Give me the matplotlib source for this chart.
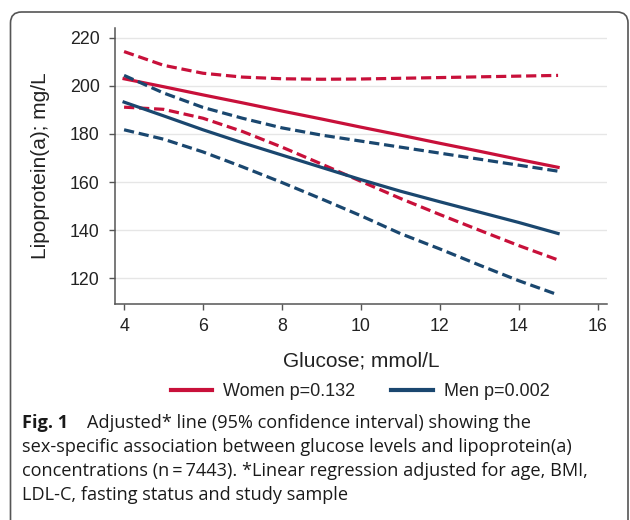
import numpy as np
import matplotlib
matplotlib.use('Agg')
from matplotlib import pyplot as plt
from matplotlib.patches import FancyBboxPatch
from matplotlib.transforms import IdentityTransform

glucose = [4, 5, 6, 7, 8, 9, 10, 11, 12, 13, 14, 15]

women_fit = [202.9, 199.6, 196.2, 192.9, 189.5, 186.2, 182.8, 179.5, 176.1, 172.8, 169.4, 166.1]
women_hi = [214.2, 208.5, 205.2, 203.6, 202.9, 202.7, 202.8, 203.1, 203.4, 203.7, 204.0, 204.3]
women_lo = [191.1, 190.2, 186.5, 181.0, 174.5, 167.5, 160.3, 153.2, 146.5, 140.0, 133.6, 127.6]

men_fit = [193.2, 187.5, 181.7, 176.3, 171.2, 166.1, 161.0, 156.2, 151.8, 147.5, 143.2, 138.6]
men_hi = [204.3, 197.0, 191.0, 186.5, 182.5, 179.5, 177.0, 174.5, 172.0, 169.5, 167.0, 164.5]
men_lo = [181.7, 177.8, 172.5, 166.3, 159.8, 153.0, 146.0, 138.6, 132.2, 125.5, 119.0, 113.1]

labels = ['Women p=0.132', 'Men p=0.002']
xticks = [4, 6, 8, 10, 12, 14, 16]
yticks = [120, 140, 160, 180, 200, 220]

red = '#c8103a'
blue = '#1a476f'
dash = (3.2, 1.5)

plt.rcParams['font.family'] = ['Liberation Sans', 'DejaVu Sans']

fig = plt.figure(figsize=(6.3, 5.2), dpi=100)
ax = fig.add_axes([115/630, 1-304/520, (607-115)/630, (304-28)/520])

lw = 2.3
l1, = ax.plot(glucose, women_fit, color=red, lw=lw, label=labels[0])
ax.plot(glucose, women_hi, color=red, lw=lw, dashes=dash)
ax.plot(glucose, women_lo, color=red, lw=lw, dashes=dash)
l2, = ax.plot(glucose, men_fit, color=blue, lw=lw, label=labels[1])
ax.plot(glucose, men_hi, color=blue, lw=lw, dashes=dash)
ax.plot(glucose, men_lo, color=blue, lw=lw, dashes=dash)

ax.set_xlim(3.77, 16.24)
ax.set_ylim(109.3, 224)
ax.set_xticks(xticks)
ax.set_yticks(yticks)
ax.grid(axis='y', color='#e6e6e6', lw=1)
ax.set_axisbelow(True)
for s in ['top', 'right']:
    ax.spines[s].set_visible(False)
for s in ['left', 'bottom']:
    ax.spines[s].set_color('#555555')
    ax.spines[s].set_linewidth(1.1)
ax.tick_params(length=4, width=1, color='#555555', labelsize=12.8, labelcolor='#222222')
ax.tick_params(axis='y', pad=7)
ax.tick_params(axis='x', pad=6)
ax.set_xlabel('Glucose; mmol/L', fontsize=15, color='#222222', labelpad=12)
ax.set_ylabel('Lipoprotein(a); mg/L', fontsize=15, color='#222222', labelpad=14)

leg = fig.legend(handles=[l1, l2], loc='center', bbox_to_anchor=(360/630, 1-392/520),
                 ncol=2, frameon=False, fontsize=13, handlelength=2.3,
                 handletextpad=0.6, columnspacing=2.0, labelcolor='#222222')
for h in leg.get_lines():
    h.set_linewidth(3)

# caption
cap_font = ['Open Sans', 'DejaVu Sans']
cap_size = 13.1
fig.text(22/630, 1-423/520, 'Fig. 1', fontsize=cap_size, fontweight='bold', va='center',
         family=cap_font, color='#1a1a1a')
fig.text(87/630, 1-423/520, 'Adjusted* line (95% confidence interval) showing the',
         fontsize=cap_size, va='center', family=cap_font, color='#1a1a1a')
rest = ['sex-specific association between glucose levels and lipoprotein(a)',
        'concentrations (n\u2009=\u20097443). *Linear regression adjusted for age, BMI,',
        'LDL-C, fasting status and study sample']
for i, line in enumerate(rest):
    fig.text(22/630, 1-(447+24*i)/520, line, fontsize=cap_size, va='center',
             family=cap_font, color='#1a1a1a')

# rounded frame
frame = FancyBboxPatch((10.5, -40), 617.5, 548, boxstyle='round,pad=0,rounding_size=11',
                       transform=IdentityTransform(), fill=False, ec='#555555', lw=1.2)
fig.patches.append(frame)

fig.savefig('out.png', dpi=100)
